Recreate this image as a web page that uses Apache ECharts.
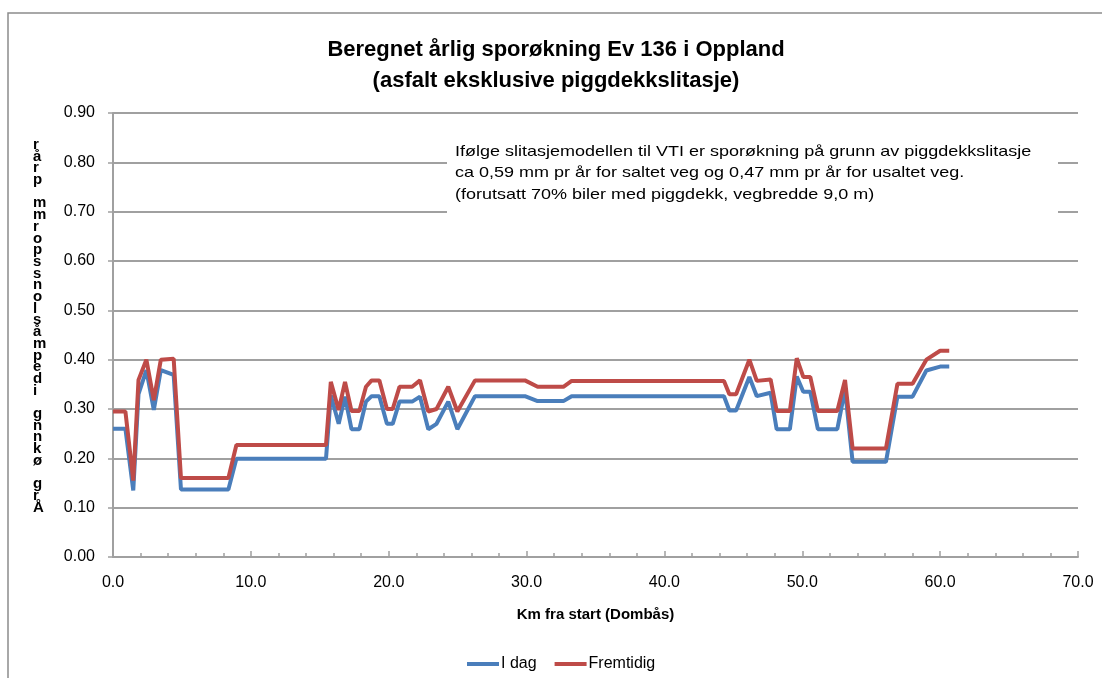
<!DOCTYPE html>
<html>
<head>
<meta charset="utf-8">
<script src="https://cdn.jsdelivr.net/npm/echarts@6/dist/echarts.min.js"></script>
<style>
  html, body { margin: 0; padding: 0; background: #fff; }
  #chart { width: 1102px; height: 678px; }
</style>
</head>
<body>
<div id="chart"></div>
<script>
// km fra start, shared by both series
const km = [0, 0.9, 1.47, 1.85, 2.42, 2.96, 3.47, 4.4, 4.93, 8.37, 8.95, 15.45, 15.8, 16.37, 16.83,
  17.3, 17.87, 18.35, 18.76, 19.32, 19.87, 20.29, 20.78, 21.7, 22.27, 22.87, 23.47, 24.32, 24.98,
  26.26, 29.88, 30.8, 32.67, 33.27, 44.32, 44.71, 45.2, 46.16, 46.7, 47.7, 48.14, 49.1, 49.6,
  50.07, 50.58, 51.13, 52.54, 53.1, 53.65, 56.07, 56.9, 58.0, 59.0, 60.0, 60.66];

const iDag = [0.26, 0.26, 0.135, 0.33, 0.379, 0.298, 0.379, 0.369, 0.137, 0.137, 0.199, 0.199, 0.328,
  0.27, 0.325, 0.259, 0.259, 0.315, 0.326, 0.326, 0.27, 0.27, 0.315, 0.315, 0.325, 0.259, 0.27,
  0.315, 0.259, 0.326, 0.326, 0.316, 0.316, 0.326, 0.326, 0.297, 0.297, 0.365, 0.326, 0.333,
  0.259, 0.259, 0.366, 0.335, 0.335, 0.259, 0.259, 0.34, 0.193, 0.193, 0.325, 0.325, 0.378,
  0.386, 0.386];

const fremtidig = [0.295, 0.295, 0.155, 0.359, 0.40, 0.318, 0.40, 0.402, 0.16, 0.16, 0.227, 0.227,
  0.355, 0.298, 0.355, 0.296, 0.296, 0.345, 0.358, 0.358, 0.30, 0.30, 0.345, 0.345, 0.358, 0.295,
  0.30, 0.345, 0.295, 0.358, 0.358, 0.345, 0.345, 0.357, 0.357, 0.33, 0.33, 0.40, 0.357, 0.36,
  0.296, 0.296, 0.403, 0.365, 0.365, 0.296, 0.296, 0.359, 0.22, 0.22, 0.351, 0.351, 0.40,
  0.418, 0.418];

const seriesNames = ["I dag", "Fremtidig"];
// y-axis title as it appears (stacked glyphs)
const yTitleChars = ["r", "å", "r", "p", " ", "m", "m", "r", "o", "p", "s", "s", "n", "o", "l", "s",
  "å", "m", "p", "e", "d", "i", " ", "g", "n", "n", "k", "ø", " ", "g", "r", "Å"];

const note = [
  "Ifølge slitasjemodellen til VTI er sporøkning på grunn av piggdekkslitasje",
  "ca 0,59 mm pr år for saltet veg og 0,47 mm pr år for usaltet veg.",
  "(forutsatt 70% biler med piggdekk, vegbredde 9,0 m)"
];

const font = "'Liberation Sans', Arial, sans-serif";
const gray = "#a0a0a0";

const chart = echarts.init(document.getElementById("chart"));

const option = {
  animation: false,
  textStyle: { fontFamily: font, color: "#000" },
  title: {
    text: "Beregnet årlig sporøkning Ev 136 i Oppland\n(asfalt eksklusive piggdekkslitasje)",
    left: 551,
    textAlign: "center",
    top: 29,
    textStyle: {
      fontFamily: font,
      fontSize: 22,
      fontWeight: "bold",
      lineHeight: 31,
      color: "#000"
    }
  },
  legend: {
    data: seriesNames,
    left: 462,
    top: 651,
    icon: "rect",
    itemWidth: 32,
    itemHeight: 4,
    itemGap: 18,
    textStyle: { fontFamily: font, fontSize: 16, color: "#000", padding: [0, 0, 0, -3] }
  },
  grid: { left: 113, right: 24, top: 113, bottom: 121 },
  xAxis: {
    type: "value",
    min: 0,
    max: 70,
    interval: 10,
    name: "Km fra start (Dombås)",
    nameLocation: "middle",
    nameGap: 50,
    nameTextStyle: { fontFamily: font, fontSize: 15, fontWeight: "bold", color: "#000" },
    axisLine: { show: true, lineStyle: { color: gray, width: 2 } },
    axisTick: { show: true, inside: true, length: 6, lineStyle: { color: gray, width: 1.5 } },
    minorTick: { show: true, splitNumber: 5, length: 4, lineStyle: { color: gray, width: 1.5 } },
    axisLabel: {
      margin: 18,
      fontSize: 16,
      color: "#000",
      formatter: v => v.toFixed(1)
    },
    splitLine: { show: false }
  },
  yAxis: {
    type: "value",
    min: 0,
    max: 0.9,
    interval: 0.1,
    axisLine: { show: true, lineStyle: { color: gray, width: 2 } },
    axisTick: { show: true, length: 5, lineStyle: { color: gray, width: 1.5 } },
    axisLabel: {
      margin: 18,
      fontSize: 16,
      color: "#000",
      formatter: v => v.toFixed(2)
    },
    splitLine: { show: true, lineStyle: { color: gray, width: 2 } }
  },
  series: [
    {
      name: seriesNames[0],
      type: "line",
      symbol: "none",
      data: km.map((k, i) => [k, iDag[i]]),
      lineStyle: { color: "#4a7ebb", width: 4 },
      itemStyle: { color: "#4a7ebb" },
      z: 2
    },
    {
      name: seriesNames[1],
      type: "line",
      symbol: "none",
      data: km.map((k, i) => [k, fremtidig[i]]),
      lineStyle: { color: "#be4b48", width: 4 },
      itemStyle: { color: "#be4b48" },
      z: 3
    }
  ],
  graphic: [
    {
      type: "rect",
      silent: true,
      shape: { x: 8, y: 13, width: 1200, height: 800 },
      style: { fill: null, stroke: "#8c8c8c", lineWidth: 1.5 },
      z: -1
    },
    {
      type: "rect",
      silent: true,
      shape: { x: 447, y: 139, width: 611, height: 77 },
      style: { fill: "#fff" },
      z: 10
    },
    {
      type: "text",
      silent: true,
      x: 455,
      y: 141,
      scaleX: 1.2,
      style: {
        text: note.join("\n"),
        fontFamily: font,
        fontSize: 15,
        lineHeight: 21.5,
        fill: "#000"
      },
      z: 11
    },
    {
      type: "text",
      silent: true,
      x: 33,
      y: 139,
      style: {
        text: yTitleChars.join("\n"),
        fontFamily: font,
        fontSize: 15,
        fontWeight: "bold",
        lineHeight: 11.7,
        fill: "#000"
      },
      z: 11
    }
  ]
};

chart.setOption(option);
</script>
</body>
</html>
